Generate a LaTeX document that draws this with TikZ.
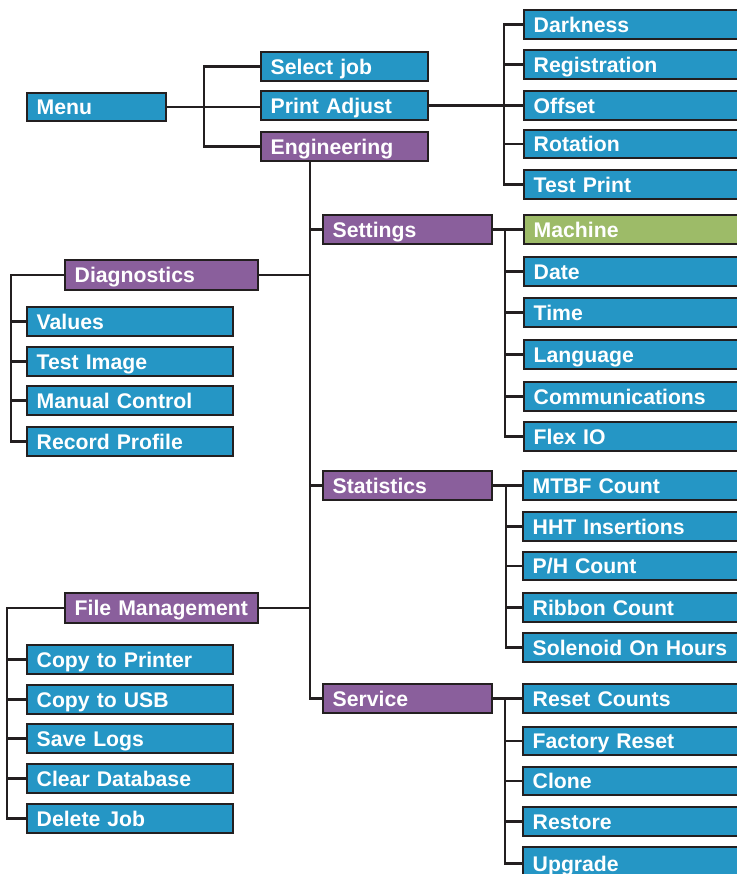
\documentclass[tikz,border=0pt]{standalone}
\usepackage{fontspec}
\setmainfont{Liberation Sans}
\definecolor{bblue}{HTML}{2596C5}
\definecolor{bpurple}{HTML}{8A5F9C}
\definecolor{bgreen}{HTML}{9DBB68}
\definecolor{bline}{HTML}{231F20}
\tikzset{
  box/.style={draw=bline, line width=1.6pt, rectangle, inner xsep=0pt, inner ysep=0pt,
    text=white, align=left, text height=11.4pt, text depth=0pt,
    font=\fontsize{15.9pt}{18pt}\selectfont\bfseries},
  conn/.style={draw=bline, line width=1.9pt}
}
\newcommand\bx[7]{%
  \pgfmathsetmacro\bxt{(#4-#2)*0.75}%
  \pgfmathsetmacro\bxh{(#5-#3)*0.75}%
  \node[box, fill=#6, text width=\bxt pt, minimum height=\bxh pt] (#1) at ({(#2+#4)/2},{(#3+#5)/2}) {\hspace*{7.3pt}#7};}
\begin{document}
\begin{tikzpicture}[x=0.75pt,y=-0.75pt]
\useasboundingbox (0,0) rectangle (736,874);
\fill[white] (0,0) rectangle (736,874);
% level 1
\bx{menu}{27}{93}{166}{121}{bblue}{Menu}
\bx{selectjob}{261}{52}{428}{81}{bblue}{Select job}
\bx{printadjust}{261}{91}{428}{120}{bblue}{Print Adjust}
\bx{engineering}{261}{132}{428}{161}{bpurple}{Engineering}
% print adjust children
\bx{darkness}{524}{10}{790}{39}{bblue}{Darkness}
\bx{registration}{524}{50}{790}{79}{bblue}{Registration}
\bx{offset}{524}{91}{790}{120}{bblue}{Offset}
\bx{rotation}{524}{130}{790}{158}{bblue}{Rotation}
\bx{testprint}{524}{170}{790}{199}{bblue}{Test Print}
% engineering children
\bx{settings}{323}{215}{492}{244}{bpurple}{Settings}
\bx{statistics}{323}{471}{492}{500}{bpurple}{Statistics}
\bx{service}{323}{684}{492}{713}{bpurple}{Service}
\bx{diagnostics}{65}{260}{258}{290}{bpurple}{Diagnostics}
\bx{filemgmt}{65}{593}{258}{623}{bpurple}{File Management}
% settings children
\bx{machine}{524}{215}{790}{244}{bgreen}{Machine}
\bx{date}{524}{257}{790}{286}{bblue}{Date}
\bx{time}{524}{298}{790}{327}{bblue}{Time}
\bx{language}{524}{340}{790}{369}{bblue}{Language}
\bx{comms}{524}{382}{790}{411}{bblue}{Communications}
\bx{flexio}{524}{422}{790}{451}{bblue}{Flex IO}
% statistics children
\bx{mtbf}{523}{471}{790}{500}{bblue}{MTBF Count}
\bx{hht}{523}{512}{790}{541}{bblue}{HHT Insertions}
\bx{phcount}{523}{552}{790}{580}{bblue}{P/H Count}
\bx{ribbon}{523}{593}{790}{622}{bblue}{Ribbon Count}
\bx{solenoid}{523}{633}{790}{662}{bblue}{Solenoid On Hours}
% service children
\bx{resetcounts}{523}{684}{790}{713}{bblue}{Reset Counts}
\bx{factoryreset}{523}{727}{790}{755}{bblue}{Factory Reset}
\bx{clone}{523}{767}{790}{795}{bblue}{Clone}
\bx{restore}{523}{807}{790}{836}{bblue}{Restore}
\bx{upgrade}{523}{847}{790}{880}{bblue}{Upgrade}
% diagnostics children
\bx{values}{27}{307}{233}{336}{bblue}{Values}
\bx{testimage}{27}{347}{233}{376}{bblue}{Test Image}
\bx{manual}{27}{386}{233}{415}{bblue}{Manual Control}
\bx{record}{27}{427}{233}{456}{bblue}{Record Profile}
% file management children
\bx{copyprinter}{27}{645}{233}{674}{bblue}{Copy to Printer}
\bx{copyusb}{27}{685}{233}{714}{bblue}{Copy to USB}
\bx{savelogs}{27}{724}{233}{753}{bblue}{Save Logs}
\bx{cleardb}{27}{764}{233}{793}{bblue}{Clear Database}
\bx{deletejob}{27}{804}{233}{833}{bblue}{Delete Job}
% connectors
\begin{scope}[conn]
\draw (menu.east) -- (menu.east -| printadjust.west);
\draw (selectjob.west) -- ++(-56,0) |- (engineering.west);
\draw (printadjust.east) -- (printadjust.east -| offset.west);
\draw (darkness.west) -- ++(-19,0) |- (testprint.west);
\draw (registration.west) -- ++(-19,0);
\draw (rotation.west) -- ++(-19,0);
\coordinate (trunktop) at (310,161);
\draw (trunktop) |- (service.west);
\draw (settings.west) -- (settings.west -| trunktop);
\draw (statistics.west) -- (statistics.west -| trunktop);
\draw (diagnostics.east) -- (diagnostics.east -| trunktop);
\draw (filemgmt.east) -- (filemgmt.east -| trunktop);
\draw (settings.east) -- (machine.west);
\draw (machine.west) -- ++(-18,0) |- (flexio.west);
\foreach \n in {date,time,language,comms} \draw (\n.west) -- ++(-18,0);
\draw (statistics.east) -- (mtbf.west);
\draw (mtbf.west) -- ++(-16,0) |- (solenoid.west);
\foreach \n in {hht,phcount,ribbon} \draw (\n.west) -- ++(-16,0);
\draw (service.east) -- (resetcounts.west);
\draw (resetcounts.west) -- ++(-17,0) |- (upgrade.west);
\foreach \n in {factoryreset,clone,restore} \draw (\n.west) -- ++(-17,0);
\draw (diagnostics.west) -- ++(-53,0) |- (record.west);
\foreach \n in {values,testimage,manual} \draw (\n.west) -- ++(-15,0);
\draw (filemgmt.west) -- ++(-57,0) |- (deletejob.west);
\foreach \n in {copyprinter,copyusb,savelogs,cleardb} \draw (\n.west) -- ++(-19,0);
\end{scope}
\end{tikzpicture}
\end{document}
